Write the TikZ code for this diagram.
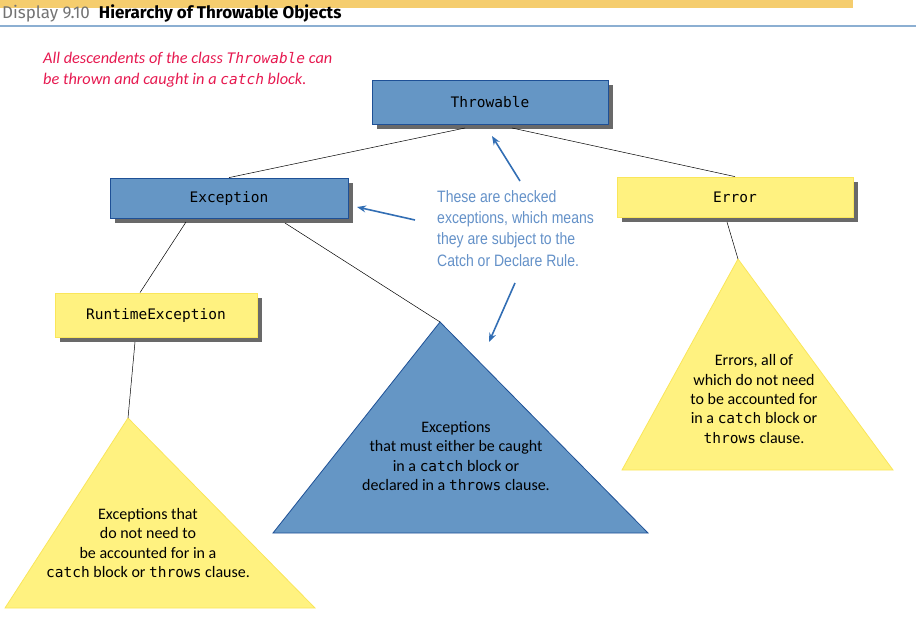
\documentclass[tikz,border=0pt]{standalone}
\usepackage{fontspec}
\setmainfont{Carlito}
\setmonofont{DejaVu Sans Mono}
\newfontfamily\notefont[FakeStretch=0.85]{Liberation Sans}
\newfontfamily\titlefont{Fira Sans}
\usetikzlibrary{shadows,arrows.meta}
\definecolor{boxblue}{RGB}{101,150,197}
\definecolor{boxblueline}{RGB}{30,80,150}
\definecolor{boxyellow}{RGB}{255,242,128}
\definecolor{yellowline}{RGB}{250,230,90}
\definecolor{noteblue}{RGB}{100,145,200}
\definecolor{arrowblue}{RGB}{50,110,180}
\definecolor{redtext}{RGB}{230,25,80}
\definecolor{barorange}{RGB}{245,205,110}
\definecolor{rulecol}{RGB}{140,175,210}
\definecolor{shadowgray}{RGB}{105,105,105}
\tikzset{
  shad/.style={drop shadow={shadow xshift=5pt,shadow yshift=-5pt,fill=shadowgray,opacity=1}},
  bluebox/.style={shad,rectangle,fill=boxblue,draw=boxblueline,line width=0.8pt,inner sep=0pt,
    font=\fontsize{14.5}{16}\ttfamily},
  yelbox/.style={shad,rectangle,fill=boxyellow,draw=yellowline,line width=0.8pt,inner sep=0pt,
    font=\fontsize{14.5}{16}\ttfamily},
  link/.style={draw=black,line width=0.5pt},
  barrow/.style={draw=arrowblue,line width=1.6pt,-{Stealth[length=9pt,width=7pt]}},
  tritext/.style={align=center,font=\fontsize{16}{19.3}\selectfont,inner sep=0pt},
  ytri/.style={fill=boxyellow,draw=yellowline,line width=0.8pt},
  btri/.style={fill=boxblue,draw=boxblueline,line width=0.8pt},
}
\newcommand{\mytt}[1]{{\ttfamily\fontsize{14.5}{16}\selectfont #1}}
\begin{document}
\begin{tikzpicture}[x=1pt,y=-1pt]
\useasboundingbox (0,0) rectangle (916,634);
% header
\fill[barorange] (0,0) rectangle (853,8);
\draw[rulecol,line width=1.2pt] (0,26) -- (916,26);
\node[anchor=base west,inner sep=0pt] (title) at (2,19)
  {\titlefont\fontsize{17}{18}\selectfont\textcolor{black!55}{Display 9.10}\hspace{9pt}\textbf{Hierarchy of Throwable Objects}};
% red note
\node[anchor=north west,align=left,inner sep=0pt,text=redtext,font=\fontsize{16.3}{21}\itshape] (rednote) at (43,52)
  {All descendents of the class \mytt{Throwable} can\\be thrown and caught in a \mytt{catch} block.};
% boxes
\node[bluebox,minimum width=236pt,minimum height=44pt] (thr) at (490,102) {Throwable};
\node[bluebox,minimum width=238pt,minimum height=40pt] (exc) at (229,198) {Exception};
\node[yelbox,minimum width=236pt,minimum height=40pt] (err) at (735,197) {Error};
\node[yelbox,minimum width=202pt,minimum height=44pt] (rte) at (156,315) {RuntimeException};
% triangles
\coordinate (lapex) at (128,418);
\coordinate (bapex) at (440,322);
\coordinate (rapex) at (738,259);
\draw[ytri] (lapex) -- (5,608) -- (315,608) -- cycle;
\draw[btri] (bapex) -- (273,533) -- (648,533) -- cycle;
\draw[ytri] (rapex) -- (622,470) -- (893,470) -- cycle;
\node[tritext] (ltext) at (148,543) {Exceptions that\\do not need to\\be accounted for in a\\\mytt{catch} block or \mytt{throws} clause.};
\node[tritext] (btext) at (456,456) {Exceptions\\that must either be caught\\in a \mytt{catch} block or\\declared in a \mytt{throws} clause.};
\node[tritext] (rtext) at (754,399) {Errors, all of\\which do not need\\to be accounted for\\in a \mytt{catch} block or\\\mytt{throws} clause.};
% connectors
\coordinate (thrL) at (465,128);
\coordinate (thrR) at (512,128);
\coordinate (excL) at (186,222);
\coordinate (excR) at (285,223);
\coordinate (errB) at (727,222);
\coordinate (rteB) at (135,342);
\draw[link] (exc.north) -- (thrL);
\draw[link] (thrR) -- (err.north);
\draw[link] (excL) -- (rte.north -| 140,0);
\draw[link] (excR) -- (bapex);
\draw[link] (errB) -- (rapex);
\draw[link] (rteB) -- (lapex);
% blue note
\node[anchor=north west,align=left,inner sep=0pt,text=noteblue,font=\notefont\fontsize{16.5}{21.3}\selectfont] (note) at (437,190)
  {These are checked\\exceptions, which means\\they are subject to the\\Catch or Declare Rule.};
\coordinate (a1s) at (520,181);
\coordinate (a1e) at (492,136);
\coordinate (a2s) at (415,220);
\coordinate (a2e) at (357,207);
\coordinate (a3s) at (515,283);
\coordinate (a3e) at (489,342);
\draw[barrow] (a1s) -- (a1e);
\draw[barrow] (a2s) -- (a2e);
\draw[barrow] (a3s) -- (a3e);
\end{tikzpicture}
\end{document}
